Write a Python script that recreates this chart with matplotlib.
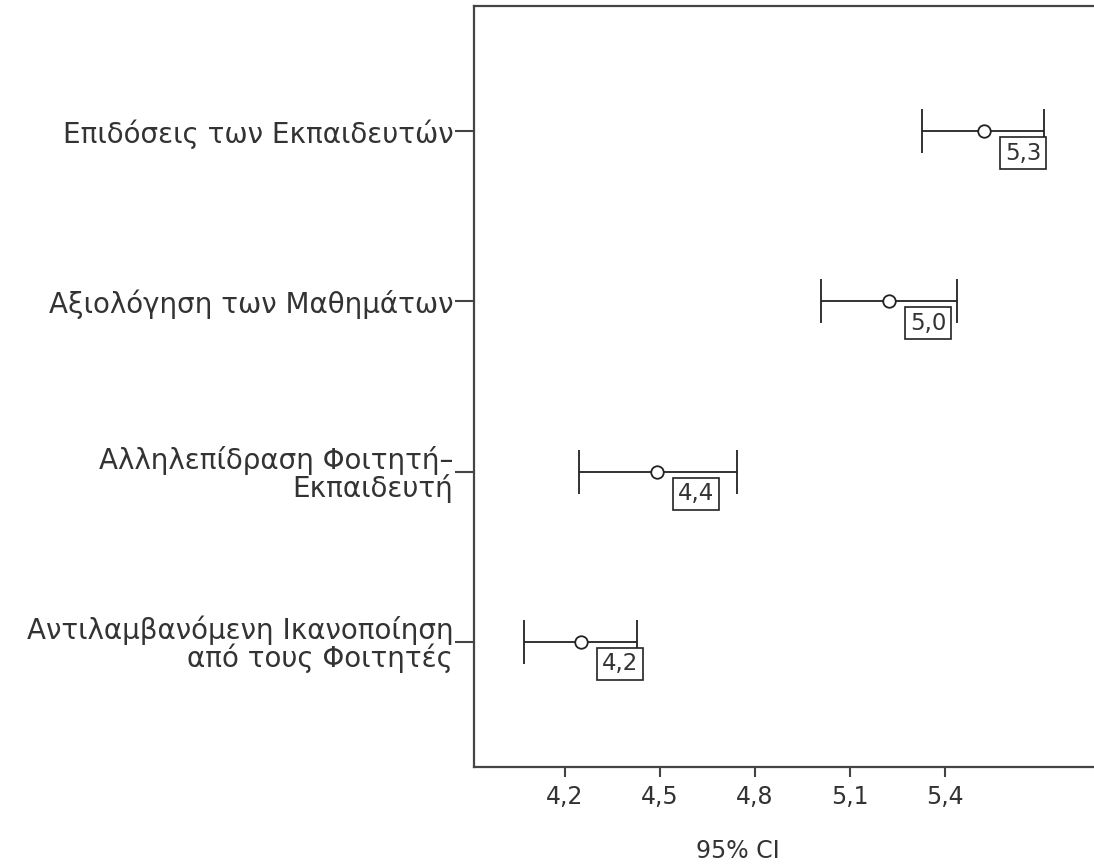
import matplotlib
matplotlib.use("Agg")
import matplotlib.pyplot as plt

# Data (in axis units)
categories = [
    "Επιδόσεις των Εκπαιδευτών",
    "Αξιολόγηση των Μαθημάτων",
    "Αλληλεπίδραση Φοιτητή–\nΕκπαιδευτή",
    "Αντιλαμβανόμενη Ικανοποίηση\nαπό τους Φοιτητές",
]
means = [5.523, 5.223, 4.491, 4.251]
lower = [5.327, 5.009, 4.245, 4.072]
upper = [5.712, 5.438, 4.744, 4.428]
value_labels = ["5,3", "5,0", "4,4", "4,2"]
xticks = [4.2, 4.5, 4.8, 5.1, 5.4]
xtick_labels = ["4,2", "4,5", "4,8", "5,1", "5,4"]

plt.rcParams['font.family'] = ['DejaVu Sans']
TXT = '#333333'
W, H = 1094, 865
fig = plt.figure(figsize=(W / 100, H / 100), dpi=100)
ax = fig.add_axes([474 / W, (H - 767) / H, (W - 474) / W, (767 - 6) / H])

ypos = list(range(len(categories)))
xerr = [[m - l for m, l in zip(means, lower)], [u - m for m, u in zip(means, upper)]]
ax.errorbar(means, ypos, xerr=xerr, fmt='o', color='#222222', mfc='white',
            mec='#222222', ms=9, mew=1.3, elinewidth=1.3, capsize=16, capthick=1.3)

for m, y, lab in zip(means, ypos, value_labels):
    ax.annotate(lab, xy=(m, y), xytext=(39, -22), textcoords='offset pixels',
                ha='center', va='center', fontsize=16.5, color=TXT,
                bbox=dict(boxstyle='square,pad=0.2', fc='white', ec='#222222', lw=1.2))

ax.set_xlim(3.914, 5.870)
ax.set_ylim(3.734, -0.734)
ax.set_xticks(xticks)
ax.set_xticklabels(xtick_labels, fontsize=17, color=TXT)
ax.set_yticks(ypos)
ax.set_yticklabels(categories, fontsize=20, color=TXT)
for t in ax.get_yticklabels():
    t.set_linespacing(0.95)

ax.set_xlabel("95% CI", fontsize=17, color=TXT)
ax.xaxis.set_label_coords(0.426, -0.095)

for s in ['left', 'top', 'bottom']:
    ax.spines[s].set_color('#444444')
    ax.spines[s].set_linewidth(1.6)
ax.spines['right'].set_visible(False)
ax.tick_params(axis='x', length=7, width=1.5, color='#444444', pad=6)
ax.tick_params(axis='y', length=14, width=1.5, color='#444444', pad=1)

fig.savefig("out.png", dpi=100)
